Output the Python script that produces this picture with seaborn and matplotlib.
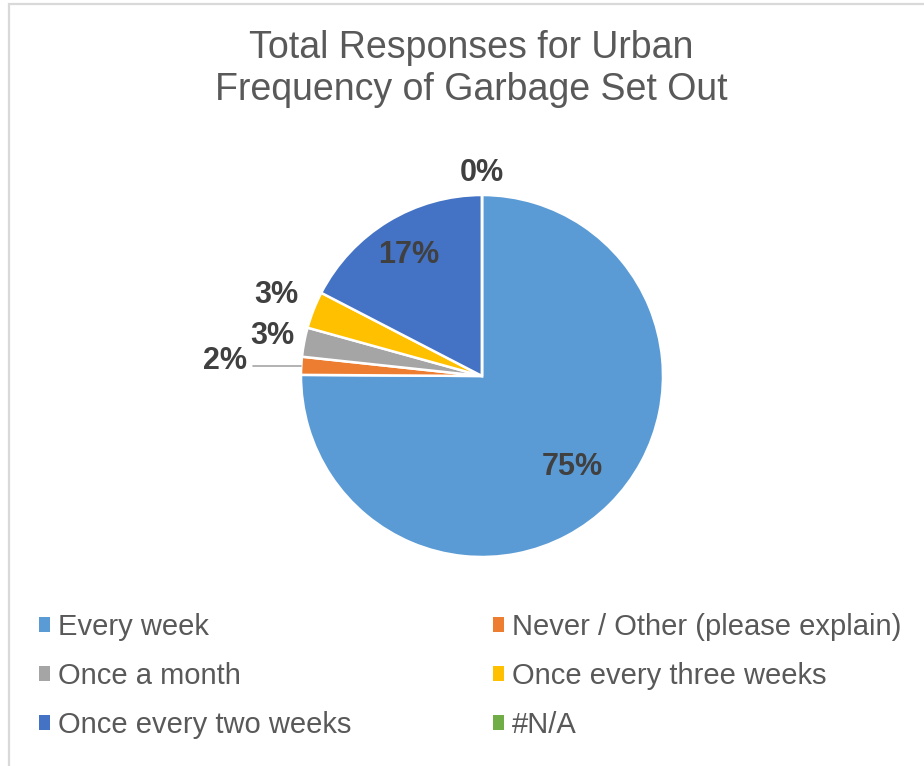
import matplotlib
matplotlib.use("Agg")
import matplotlib.pyplot as plt
from matplotlib.patches import Patch, Rectangle
import seaborn as sns
import numpy as np

# ==========================================
# DATA
# ==========================================
CATEGORIES = ["Every week", "Never / Other (please explain)", "Once a month",
              "Once every three weeks", "Once every two weeks", "#N/A"]
SHARES = [75.1, 1.6, 2.6, 3.3, 17.4, 0.0]
COLORS = ["#5B9BD5", "#ED7D31", "#A5A5A5", "#FFC000", "#4472C4", "#70AD47"]
TITLE = "Total Responses for Urban\nFrequency of Garbage Set Out"

# label placement (fraction of radius) - inside for the big ones, outside otherwise
LABEL_R = [0.71, 1.42, 1.18, 1.22, 0.78, 1.12]

# ==========================================
# STYLE
# ==========================================
sns.set_theme(style="white")
plt.rcParams["font.family"] = ["Liberation Sans", "DejaVu Sans"]
palette = sns.color_palette(COLORS)

fig = plt.figure(figsize=(9.24, 7.66), dpi=100)
W, H = 924, 766

# light chart border (left + top visible)
fig.patches.append(Rectangle((8.5 / W, -0.05), 1.2, 1.05 - 4.5 / H, transform=fig.transFigure,
                             fill=False, edgecolor="#D9D9D9", linewidth=1.6, zorder=0))

# pie axes: centre ~ (482, 376), radius ~181 px
cx, cy, r = 482, 376, 181
ax = fig.add_axes([(cx - r) / W, (H - cy - r) / H, 2 * r / W, 2 * r / H])

wedges, _ = ax.pie(SHARES, colors=palette, startangle=90, counterclock=False,
                   wedgeprops=dict(edgecolor="white", linewidth=1.8))
ax.set_xlim(-1, 1)
ax.set_ylim(-1, 1)
ax.set_aspect("equal")
ax.axis("off")

for w, share, lr in zip(wedges, SHARES, LABEL_R):
    mid = np.deg2rad((w.theta1 + w.theta2) / 2)
    x, y = lr * np.cos(mid), lr * np.sin(mid)
    ax.text(x, y, f"{share:.0f}%", ha="center", va="center", fontsize=22,
            fontweight="bold", color="#404040", clip_on=False)
    if lr > 1.3:
        # leader line for the far-out label
        ax.plot([np.cos(mid), x + 0.15], [np.sin(mid), np.sin(mid)], color="#A6A6A6",
                linewidth=1.2, clip_on=False)

fig.text(471 / W, 1 - 69 / H, TITLE, ha="center", va="center", fontsize=27,
         color="#595959", linespacing=1.2)

# legend is filled row by row in the original -> reorder for matplotlib's column fill
order = [0, 2, 4, 1, 3, 5]
handles = [Patch(facecolor=palette[i], edgecolor="none") for i in order]
labels = [CATEGORIES[i] for i in order]
fig.legend(handles, labels, ncol=2, loc="upper left",
           bbox_to_anchor=(39 / W, 1 - 613 / H), frameon=False, fontsize=21,
           labelcolor="#595959", handlelength=0.38, handleheight=0.38,
           handletextpad=0.28, columnspacing=4.85, labelspacing=0.72, borderpad=0,
           borderaxespad=0)

fig.savefig("out.png", dpi=100, facecolor="white")
